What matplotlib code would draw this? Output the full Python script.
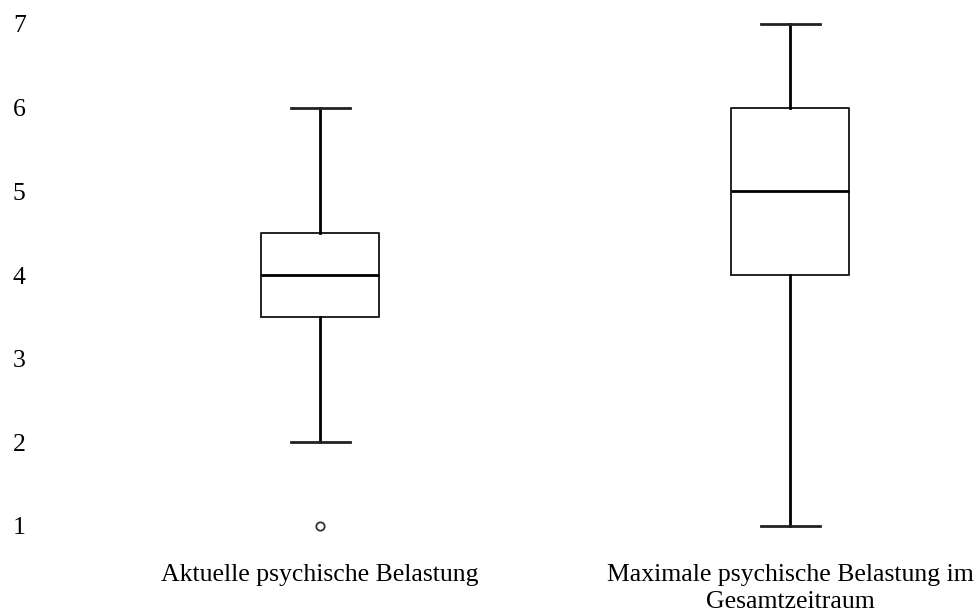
import matplotlib
matplotlib.use("Agg")
import matplotlib.pyplot as plt

categories = ["Aktuelle psychische Belastung", "Maximale psychische Belastung im\nGesamtzeitraum"]
whislo = [2, 1]
q1 = [3.5, 4]
med = [4, 5]
q3 = [4.5, 6]
whishi = [6, 7]
fliers = [[1], []]
yticks = [1, 2, 3, 4, 5, 6, 7]

plt.rcParams['font.family'] = ['Liberation Serif', 'DejaVu Serif']

fig = plt.figure(figsize=(9.8, 6.16), dpi=100)
W, H = 980, 616
# pixel mapping: y=7 -> 24, y=1 -> 526 ; x=1 -> 320, x=2 -> 790
ppu_y = (526 - 24) / 6
ppu_x = 470
ylo, yhi = 0.75, 7.25
left_px = 34
xlo = 1 - (320 - left_px) / ppu_x
xhi = 2 + (W - 790) / ppu_x
top_px = 24 - (yhi - 7) * ppu_y
bot_px = 526 + (1 - ylo) * ppu_y
ax = fig.add_axes([left_px / W, 1 - bot_px / H, (W - left_px) / W, (bot_px - top_px) / H])

stats = []
for i in range(len(categories)):
    stats.append(dict(whislo=whislo[i], q1=q1[i], med=med[i], q3=q3[i],
                      whishi=whishi[i], fliers=fliers[i], label=categories[i]))

ax.bxp(stats, positions=[1, 2], widths=118 / ppu_x,
       boxprops=dict(color='#222222', linewidth=1.4),
       medianprops=dict(color='black', linewidth=2),
       whiskerprops=dict(color='black', linewidth=2),
       capprops=dict(color='#222222', linewidth=2),
       flierprops=dict(marker='o', markersize=6, markerfacecolor='none',
                       markeredgecolor='#333333', markeredgewidth=1.3),
       capwidths=59 / ppu_x)

ax.set_xlim(xlo, xhi)
ax.set_ylim(ylo, yhi)
ax.set_yticks(yticks)
ax.set_yticklabels([str(v) for v in yticks])
for s in ax.spines.values():
    s.set_visible(False)
ax.tick_params(axis='both', length=0)
ax.tick_params(axis='y', pad=6, labelsize=18.5)
ax.tick_params(axis='x', pad=12, labelsize=18.5)
for lab in ax.get_xticklabels():
    lab.set_linespacing(1.3)
for lab in ax.get_yticklabels():
    lab.set_horizontalalignment('right')
fig.savefig("out.png", dpi=100, facecolor='white')
